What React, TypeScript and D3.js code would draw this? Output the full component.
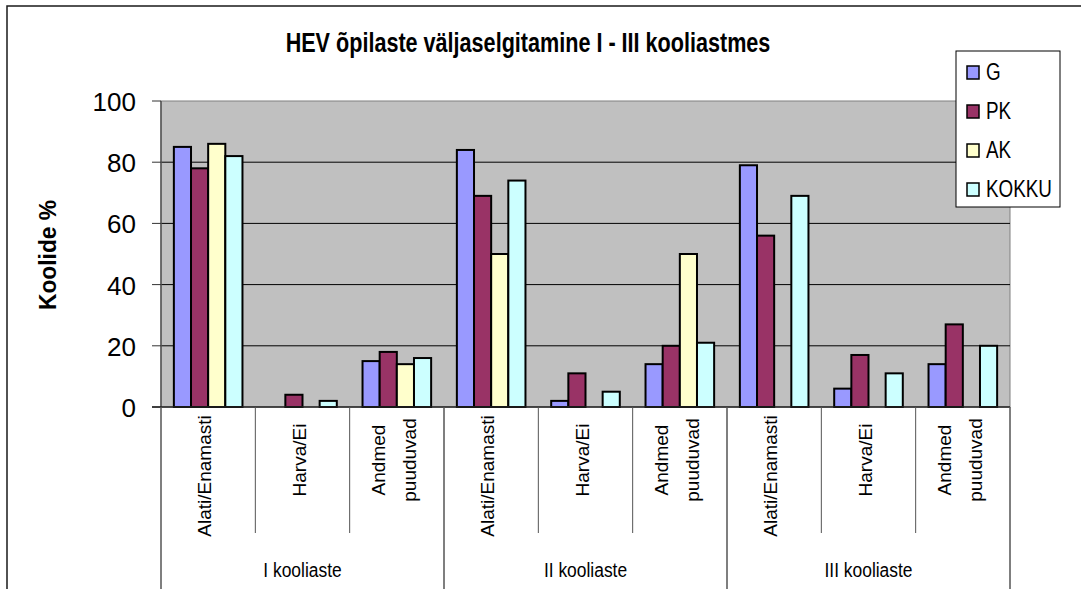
import React from 'react';
import * as d3 from 'd3';

// chart data
const groups = ['I kooliaste', 'II kooliaste', 'III kooliaste'];
const subCategories = ['Alati/Enamasti', 'Harva/Ei', 'Andmed puuduvad'];
const seriesNames = ['G', 'PK', 'AK', 'KOKKU'];
const gValues = [85, 0, 15, 84, 2, 14, 79, 6, 14];
const pkValues = [78, 4, 18, 69, 11, 20, 56, 17, 27];
const akValues = [86, 0, 14, 50, 0, 50, 0, 0, 0];
const kokkuValues = [82, 2, 16, 74, 5, 21, 69, 11, 20];
const yTicks = [0, 20, 40, 60, 80, 100];
const seriesColors = ['#9999FF', '#993366', '#FFFFCC', '#CCFFFF'];

const W = 1081;
const H = 589;
const FONT = '"Liberation Sans", Arial, sans-serif';

const plot = { left: 161, right: 1010, top: 101, bottom: 407 };

const App = () => {
  const seriesValues = [gValues, pkValues, akValues, kokkuValues];
  const categories = groups.flatMap((g, gi) => subCategories.map((s, si) => ({ key: `${gi}-${si}`, group: g, label: s })));

  const x = d3.scaleBand<string>()
    .domain(categories.map(c => c.key))
    .range([plot.left, plot.right])
    .padding(0);

  const xInner = d3.scaleBand<string>()
    .domain(seriesNames)
    .range([0, x.bandwidth()])
    .paddingInner(0)
    .paddingOuter(0.75);

  const y = d3.scaleLinear().domain([0, 100]).range([plot.bottom, plot.top]);

  const groupEdges = groups.map((_, gi) => x(`${gi}-0`) as number).concat(plot.right);
  const catEdges = categories.map(c => x(c.key) as number);

  return (
    <div style={{ position: 'absolute', left: 0, top: 0, background: '#fff' }}>
      <svg width={W} height={H} style={{ display: 'block', fontFamily: FONT }}>
        <rect width={W} height={H} fill="#fff" />
        {/* chart frame */}
        <rect x={7} y={6} width={W + 50} height={H + 50} fill="none" stroke="#1a1a1a" strokeWidth={1.5} />

        {/* title */}
        <text
          transform={`translate(528,52) scale(0.8,1)`}
          textAnchor="middle"
          fontSize={27}
          fontWeight="bold"
          fill="#000"
        >
          HEV õpilaste väljaselgitamine I - III kooliastmes
        </text>

        {/* plot area */}
        <rect
          x={plot.left}
          y={plot.top}
          width={plot.right - plot.left}
          height={plot.bottom - plot.top}
          fill="#C0C0C0"
          stroke="#808080"
          strokeWidth={1}
        />
        {yTicks.filter(t => t > 0 && t < 100).map(t => (
          <line key={t} x1={plot.left} x2={plot.right} y1={y(t)} y2={y(t)} stroke="#000" strokeWidth={1} />
        ))}

        {/* bars */}
        {seriesNames.map((s, si) => (
          <g key={s}>
            {categories.map((c, ci) => {
              const v = seriesValues[si][ci];
              if (!v) return null;
              return (
                <rect
                  key={c.key}
                  x={(x(c.key) as number) + (xInner(s) as number)}
                  y={y(v)}
                  width={xInner.bandwidth()}
                  height={y(0) - y(v)}
                  fill={seriesColors[si]}
                  stroke="#000"
                  strokeWidth={2}
                />
              );
            })}
          </g>
        ))}

        {/* y axis */}
        <line x1={plot.left} x2={plot.left} y1={plot.top} y2={plot.bottom} stroke="#555" strokeWidth={1.5} />
        {yTicks.map(t => (
          <g key={t}>
            <line x1={plot.left - 9} x2={plot.left} y1={y(t)} y2={y(t)} stroke="#333" strokeWidth={1} />
            <text x={136} y={y(t) + 1} textAnchor="end" dominantBaseline="central" fontSize={26} fill="#000">
              {t}
            </text>
          </g>
        ))}
        <text
          transform={`translate(56,255) rotate(-90)`}
          textAnchor="middle"
          fontSize={24}
          fontWeight="bold"
          textLength={110}
          lengthAdjust="spacingAndGlyphs"
          fill="#000"
        >
          Koolide %
        </text>

        {/* x axis */}
        <line x1={plot.left - 9} x2={plot.right} y1={plot.bottom} y2={plot.bottom} stroke="#222" strokeWidth={1.5} />
        {catEdges.filter(e => !groupEdges.includes(e)).map(e => (
          <line key={e} x1={e} x2={e} y1={plot.bottom} y2={533} stroke="#555" strokeWidth={1} />
        ))}
        {groupEdges.map(e => (
          <line key={e} x1={e} x2={e} y1={plot.bottom} y2={H} stroke="#555" strokeWidth={1.5} />
        ))}
        {categories.map(c => {
          const cx = (x(c.key) as number) + x.bandwidth() / 2;
          const lines = c.label.split(' ');
          const cy = c.label === 'Alati/Enamasti' ? 476 : 460;
          const offsets = lines.length === 1 ? [3] : [-12, 19];
          return lines.map((ln, li) => (
            <text
              key={`${c.key}-${li}`}
              transform={`translate(${cx + offsets[li]},${cy}) rotate(-90)`}
              textAnchor="middle"
              fontSize={19}
              fill="#000"
            >
              {ln}
            </text>
          ));
        })}
        {groups.map((g, gi) => (
          <text
            key={g}
            transform={`translate(${(groupEdges[gi] + groupEdges[gi + 1]) / 2},577) scale(0.83,1)`}
            textAnchor="middle"
            fontSize={21}
            fill="#000"
          >
            {g}
          </text>
        ))}

        {/* legend */}
        <rect x={956} y={51} width={104} height={156} fill="#fff" stroke="#000" strokeWidth={1} />
        {seriesNames.map((s, si) => {
          const base = 80 + si * 39;
          return (
            <g key={s}>
              <rect x={967} y={base - 14} width={12} height={13} fill={seriesColors[si]} stroke="#000" strokeWidth={1.5} />
              <text transform={`translate(986,${base}) scale(0.82,1)`} fontSize={23} fill="#000">
                {s}
              </text>
            </g>
          );
        })}
      </svg>
    </div>
  );
};

export default App;
